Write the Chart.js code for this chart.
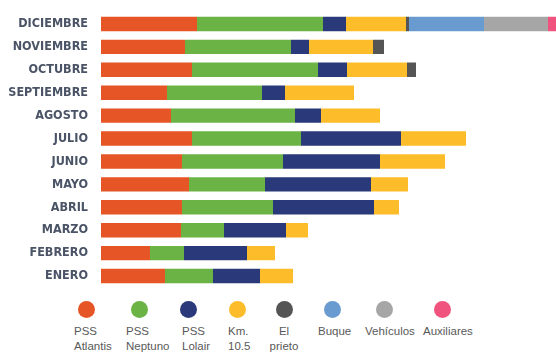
<!DOCTYPE html>
<html>
<head>
<meta charset="utf-8">
<script src="https://cdn.jsdelivr.net/npm/chart.js@4/dist/chart.umd.min.js"></script>
<style>
  body { margin: 0; background: #fff; }
  #wrap { position: relative; width: 556px; height: 352px; overflow: hidden; }
  #chartBox { position: absolute; left: 0; top: 0; width: 556px; height: 300px; }
  .lg-dot { position: absolute; width: 17px; height: 17px; border-radius: 50%; }
  .lg-txt { position: absolute; font-family: "Liberation Sans", Arial, sans-serif; font-size: 11.5px;
            line-height: 15px; color: #595959; white-space: nowrap; }
</style>
</head>
<body>
<div id="wrap">
  <div id="chartBox"><canvas id="myChart"></canvas></div>
</div>
<script>
// months, top to bottom
var months = ["DICIEMBRE", "NOVIEMBRE", "OCTUBRE", "SEPTIEMBRE", "AGOSTO", "JULIO",
  "JUNIO", "MAYO", "ABRIL", "MARZO", "FEBRERO", "ENERO"];

var seriesNames = [["PSS", "Atlantis"], ["PSS", "Neptuno"], ["PSS", "Lolair"], ["Km.", "10.5"],
  ["El", "prieto"], ["Buque"], ["Vehículos"], ["Auxiliares"]];
var seriesColors = ["#E65525", "#6AB344", "#293979", "#FDBD2A", "#555555", "#6A9BD0", "#A6A6A6", "#F0547E"];

var pssAtlantis = [96, 84, 91, 66, 70, 91, 81, 88, 81, 80, 49, 64];
var pssNeptuno  = [126, 106, 126, 95, 124, 109, 101, 76, 91, 43, 34, 48];
var pssLolair   = [23, 18, 29, 23, 26, 100, 97, 106, 101, 62, 63, 47];
var km105       = [60, 64, 60, 69, 59, 65, 65, 37, 25, 22, 28, 33];
var elPrieto    = [3, 11, 9, 0, 0, 0, 0, 0, 0, 0, 0, 0];
var buque       = [75, 0, 0, 0, 0, 0, 0, 0, 0, 0, 0, 0];
var vehiculos   = [64, 0, 0, 0, 0, 0, 0, 0, 0, 0, 0, 0];
var auxiliares  = [8, 0, 0, 0, 0, 0, 0, 0, 0, 0, 0, 0];

var allSeries = [pssAtlantis, pssNeptuno, pssLolair, km105, elPrieto, buque, vehiculos, auxiliares];

// largest month total sets the end of the axis
var maxTotal = 0;
for (var m = 0; m < months.length; m++) {
  var t = 0;
  for (var s = 0; s < allSeries.length; s++) t += allSeries[s][m];
  if (t > maxTotal) maxTotal = t;
}

var datasets = [];
for (var i = 0; i < allSeries.length; i++) {
  datasets.push({
    label: seriesNames[i].join(" "),
    data: allSeries[i],
    backgroundColor: seriesColors[i],
    borderWidth: 0,
    categoryPercentage: 1,
    barPercentage: 0.63,
  });
}

new Chart("myChart", {
  type: "bar",
  data: { labels: months, datasets: datasets },
  options: {
    indexAxis: "y",
    responsive: true,
    maintainAspectRatio: false,
    animation: false,
    layout: { padding: { top: 8, bottom: 7, left: 0, right: 0 } },
    plugins: { legend: { display: false }, tooltip: { enabled: false } },
    scales: {
      x: { stacked: true, display: false, min: 0, max: maxTotal },
      y: {
        stacked: true,
        grid: { display: false },
        border: { display: false },
        ticks: {
          padding: 5,
          color: "#4A5466",
          font: { family: "'DejaVu Sans Condensed', 'Liberation Sans Narrow', sans-serif", size: 12.5, weight: "bold" },
        },
        afterFit: function (scale) { scale.width = 101; },
      },
    },
  },
});

// legend below the chart
var dotX = [86, 139, 188, 237, 284, 332, 384, 442];
var txtX = [74, 126, 182, 228, 284, 318, 365, 423];
var wrap = document.getElementById("wrap");
for (var j = 0; j < seriesNames.length; j++) {
  var dot = document.createElement("div");
  dot.className = "lg-dot";
  dot.style.left = dotX[j] - 8.5 + "px";
  dot.style.top = 309 - 8.5 + "px";
  dot.style.background = seriesColors[j];
  wrap.appendChild(dot);

  var txt = document.createElement("div");
  txt.className = "lg-txt";
  txt.style.top = "324px";
  if (j == 4) {
    // "El prieto" is centred under its dot
    txt.style.left = txtX[j] - 30 + "px";
    txt.style.width = "60px";
    txt.style.textAlign = "center";
  } else {
    txt.style.left = txtX[j] + "px";
  }
  txt.innerHTML = seriesNames[j].join("<br>");
  wrap.appendChild(txt);
}
</script>
</body>
</html>
